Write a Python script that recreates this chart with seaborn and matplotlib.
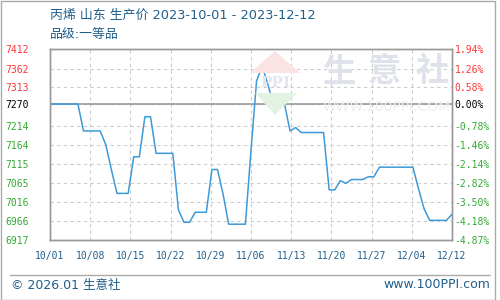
import numpy as np
import pandas as pd
import matplotlib
matplotlib.use('Agg')
import matplotlib.pyplot as plt
import seaborn as sns
from matplotlib.patches import Polygon, Rectangle
from matplotlib.lines import Line2D

# ---------------- data ----------------
start_date = '2023-10-01'
prices = [
    7270, 7270, 7270, 7270, 7270, 7270, 7200, 7200, 7200, 7200,   # 10/01-10/10
    7164, 7099, 7038, 7038, 7038, 7133, 7133, 7237, 7237, 7142,   # 10/11-10/20
    7142, 7142, 7142, 6995, 6963, 6963, 6989, 6989, 6989, 7100,   # 10/21-10/30
    7100, 7036, 6958, 6958, 6958, 6958, 7150, 7330, 7368, 7322,   # 10/31-11/09
    7270, 7270, 7270, 7200, 7209, 7196, 7196, 7196, 7196, 7196,   # 11/10-11/19
    7047, 7047, 7071, 7064, 7074, 7074, 7074, 7081, 7081, 7106,   # 11/20-11/29
    7106, 7106, 7106, 7106, 7106, 7106, 7050, 6998, 6968, 6968,   # 11/30-12/09
    6968, 6968, 6984,                                             # 12/10-12/12
]
base_price = 7270
y_ticks = [7412, 7362, 7313, 7270, 7214, 7164, 7115, 7065, 7016, 6966, 6917]
pct_labels = ['1.94%', '1.26%', '0.58%', '0.00%', '-0.78%', '-1.46%',
              '-2.14%', '-2.82%', '-3.50%', '-4.18%', '-4.87%']
x_labels = ['10/01', '10/08', '10/15', '10/22', '10/29', '11/06',
            '11/13', '11/20', '11/27', '12/04', '12/12']
title = '丙烯 山东 生产价 2023-10-01 - 2023-12-12'
subtitle = '品级:一等品'
footer_left = '© 2026.01 生意社'
footer_right = 'www.100PPI.com'

# ---------------- style ----------------
sns.set_theme(style='white')
plt.rcParams['font.family'] = ['Noto Sans CJK SC', 'DejaVu Sans']
MIXED = ['DejaVu Sans', 'Noto Sans CJK SC']

RED = '#ff3333'
GREEN = '#33aa33'
BLUE_TXT = '#1f5f8b'
LINE = '#3d9ad8'
GRID = '#cccccc'
SPINE = '#999999'

W, H = 500, 300
fig = plt.figure(figsize=(5, 3), dpi=100)
fig.patch.set_facecolor('white')
ax = fig.add_axes([50 / W, 1 - 240 / H, 402 / W, 190.7 / H])
ax.set_facecolor('white')

df = pd.DataFrame({'date': pd.date_range(start_date, periods=len(prices)),
                   'price': prices})
df['day'] = (df['date'] - df['date'].iloc[0]).dt.days

# ---------------- watermark ----------------
wm = '#dfe2eb'
for cx, ch in zip([340, 384, 432], '生意社'):
    fig.text(cx / W, 1 - 72 / H, ch, fontsize=24, color=wm, ha='center',
             va='center', fontweight='bold', zorder=0)
fig.text(387 / W, 1 - 107 / H, 'WWW.100PPI.COM', fontsize=10, color='#eceef2',
         ha='center', va='center', family='DejaVu Sans', zorder=0)
def fp(x, y):
    return (x / W, 1 - y / H)
fig.patches.append(Polygon([fp(250, 73), fp(275, 51), fp(300, 73)], closed=True,
                           transform=fig.transFigure, fc='#fbe3e3', ec='none', zorder=0))
fig.patches.append(Polygon([fp(255, 93), fp(275, 115), fp(297, 93)], closed=True,
                           transform=fig.transFigure, fc='#e3f3e3', ec='none', zorder=0))
fig.text(275 / W, 1 - 83 / H, 'PPI', fontsize=11, color='#e3e6f2', ha='center',
         va='center', family='DejaVu Serif', fontweight='bold', zorder=0)

# ---------------- line ----------------
sns.lineplot(data=df, x='day', y='price', ax=ax, color=LINE, linewidth=1.1, zorder=5)
ax.axhline(base_price, color=SPINE, linewidth=1.2, zorder=3)

ax.set_xlim(0, df['day'].max())
ax.set_ylim(min(y_ticks), max(y_ticks))
ax.set_xlabel('')
ax.set_ylabel('')
ax.patch.set_alpha(0)

ax.set_xticks(np.linspace(0, df['day'].max(), len(x_labels)))
ax.set_xticklabels(x_labels, fontsize=7, color=BLUE_TXT, family='DejaVu Sans Mono')
ax.tick_params(axis='x', length=0, pad=8)

ax.set_yticks(y_ticks)
ax.set_yticklabels([str(v) for v in y_ticks], fontsize=7, family='DejaVu Sans Mono')
ax.tick_params(axis='y', length=0, pad=32.4)

def tick_color(v):
    if v > base_price:
        return RED
    if v < base_price:
        return GREEN
    return 'black'

for lbl, v in zip(ax.get_yticklabels(), y_ticks):
    lbl.set_ha('left')
    lbl.set_color(tick_color(v))

ax.grid(True, color=GRID, linestyle=(0, (3, 3)), linewidth=0.8)
for s in ax.spines.values():
    s.set_color(SPINE)
    s.set_linewidth(1.0)

ax2 = ax.twinx()
ax2.set_ylim(ax.get_ylim())
ax2.set_yticks(y_ticks)
ax2.set_yticklabels(pct_labels, fontsize=7, family='DejaVu Sans Mono')
ax2.tick_params(axis='y', length=0, pad=2)
ax2.grid(False)
for lbl, v in zip(ax2.get_yticklabels(), y_ticks):
    lbl.set_color(tick_color(v))
for s in ax2.spines.values():
    s.set_color(SPINE)
    s.set_linewidth(1.0)

# ---------------- texts ----------------
fig.text(50 / W, 1 - 15 / H, title, fontsize=9.3, color=BLUE_TXT, va='center', family=MIXED)
fig.text(50 / W, 1 - 34.5 / H, subtitle, fontsize=9.3, color=BLUE_TXT, va='center', family=MIXED)

fig.lines.append(Line2D([10 / W, 490 / W], [1 - 275 / H] * 2, color='#aaaaaa',
                        linewidth=1, transform=fig.transFigure))
fig.text(11 / W, 1 - 285 / H, footer_left, fontsize=9, color=BLUE_TXT, va='center', family=MIXED)
fig.text(490 / W, 1 - 285 / H, footer_right, fontsize=9, color=BLUE_TXT,
         va='center', ha='right', family='DejaVu Sans')

fig.patches.append(Rectangle((0.5 / W, 0.5 / H), 494 / W, 299 / H, fill=False,
                             ec='#aaaaaa', lw=1, transform=fig.transFigure))

fig.savefig('out.png', dpi=100)
